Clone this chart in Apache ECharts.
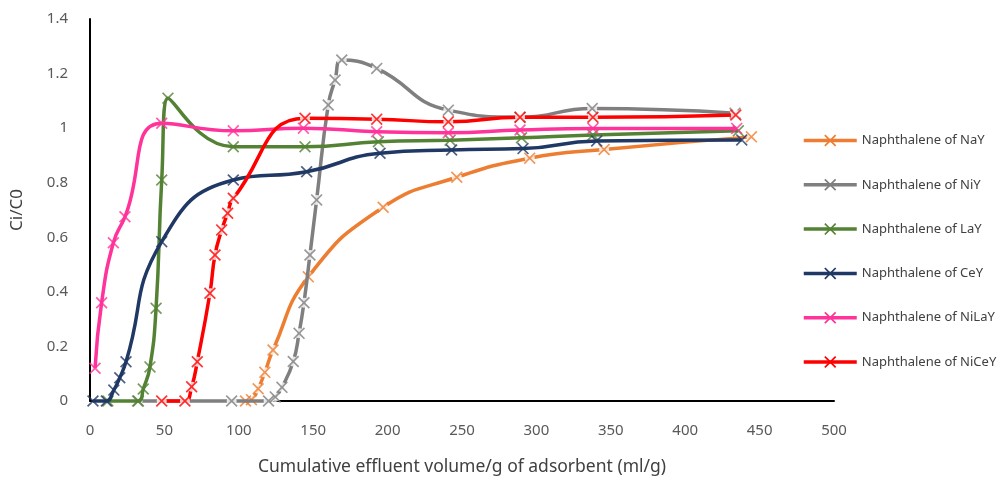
<!DOCTYPE html>
<html>
<head>
<meta charset="utf-8">
<script src="https://cdn.jsdelivr.net/npm/echarts@6/dist/echarts.min.js"></script>
<style>html,body{margin:0;padding:0;background:#fff;}#c{width:1006px;height:486px;}</style>
</head>
<body>
<div id="c"></div>
<script>
// ---- data (x = cumulative effluent volume ml/g, y = Ci/C0) ----
const seriesNames = ['Naphthalene of NaY','Naphthalene of NiY','Naphthalene of LaY','Naphthalene of CeY','Naphthalene of NiLaY','Naphthalene of NiCeY'];
const xTicks = [0,50,100,150,200,250,300,350,400,450,500];
const yTicks = [0,0.2,0.4,0.6,0.8,1,1.2,1.4];

const nayData = [[104.5,0],[108.5,0.005],[113,0.045],[117.5,0.105],[123,0.187],[146.7,0.455],[197,0.71],[246.5,0.82],[295.5,0.89],[345.5,0.922],[444.5,0.968]];
const niyData = [[32,0],[95.2,0],[120,0],[124.5,0.015],[129,0.05],[136.6,0.145],[140.5,0.248],[143.8,0.36],[147.8,0.535],[152.3,0.737],[160.1,1.085],[164.7,1.176],[169.2,1.25],[192.7,1.219],[240.8,1.066],[289,1.04],[337.5,1.072],[433.5,1.055]];
const layData = [[12,0],[32.5,0],[35.8,0.044],[40.3,0.125],[44.4,0.34],[48.2,0.81],[52.4,1.11],[96.3,0.932],[144.5,0.932],[193.8,0.95],[242,0.956],[290,0.965],[338,0.975],[435.7,0.99]];
const ceyData = [[2,0],[11,0],[16,0.04],[20,0.085],[24.2,0.144],[48.2,0.584],[96.3,0.81],[145.6,0.84],[194.9,0.908],[243,0.92],[291,0.925],[340.5,0.953],[438,0.957]];
const nilayData = [[3.4,0.12],[7.8,0.36],[15.7,0.58],[23.5,0.675],[48.2,1.018],[96.3,0.99],[143.4,1.0],[192.7,0.987],[240.8,0.983],[289,0.993],[338,0.999],[434.6,0.999]];
const niceyData = [[48.2,0],[63.8,0],[68.3,0.052],[72.1,0.144],[80.6,0.395],[84,0.535],[88.5,0.627],[92.5,0.688],[96.3,0.743],[144.5,1.036],[192.7,1.033],[240.8,1.023],[289,1.04],[338,1.04],[434,1.048]];

const allData = [nayData, niyData, layData, ceyData, nilayData, niceyData];
const colors = ['#ED7D31','#7F7F7F','#548235','#203864','#FF3399','#FF0000'];
const whiteBackedMarkers = [true, true, false, false, false, true];

const X_PATH = 'path://M2,0 L10,8 L18,0 L20,2 L12,10 L20,18 L18,20 L10,12 L2,20 L0,18 L8,10 L0,2 Z';
const FONT = 'Noto Sans';

const series = [];
allData.forEach(function (d, i) {
  const zb = 2 + i * 3;
  series.push({
    type: 'line', name: seriesNames[i], data: d, smooth: 0.5, clip: false,
    showSymbol: false, symbol: X_PATH, symbolSize: 12,
    lineStyle: { color: colors[i], width: 3.5 },
    itemStyle: { color: colors[i] },
    z: zb, animation: false
  });
  if (whiteBackedMarkers[i]) {
    series.push({
      type: 'scatter', name: '_bg' + i, data: d, symbol: 'circle', symbolSize: 10,
      itemStyle: { color: '#ffffff' }, silent: true, clip: false, z: zb + 1, animation: false
    });
  }
  series.push({
    type: 'scatter', name: seriesNames[i], data: d, symbol: X_PATH, symbolSize: 12,
    itemStyle: { color: colors[i] }, clip: false, z: zb + 2, animation: false
  });
});

const chart = echarts.init(document.getElementById('c'), null, { renderer: 'canvas' });
chart.setOption({
  animation: false,
  backgroundColor: '#ffffff',
  grid: { left: 90, right: 172, top: 19, bottom: 85 },
  legend: {
    data: seriesNames, orient: 'vertical', left: 797, top: 129,
    itemWidth: 53, itemHeight: 15, itemGap: 31.3,
    lineStyle: { width: 3.5 },
    textStyle: { fontFamily: FONT, fontSize: 13, color: '#404040', padding: [0, 0, 0, 0] }
  },
  xAxis: {
    type: 'value', min: xTicks[0], max: xTicks[xTicks.length - 1], interval: xTicks[1] - xTicks[0],
    name: 'Cumulative effluent volume/g of adsorbent (ml/g)', nameLocation: 'middle', nameGap: 57,
    nameTextStyle: { fontFamily: FONT, fontSize: 17.5, color: '#404040' },
    axisLine: { show: true, onZero: false, lineStyle: { color: '#000', width: 2 } },
    axisTick: { show: false }, splitLine: { show: false },
    axisLabel: { fontFamily: FONT, fontSize: 15, color: '#595959', margin: 22 }
  },
  yAxis: {
    type: 'value', min: yTicks[0], max: yTicks[yTicks.length - 1], interval: yTicks[1] - yTicks[0],
    name: 'Ci/C0', nameLocation: 'middle', nameGap: 64,
    nameTextStyle: { fontFamily: FONT, fontSize: 17, color: '#404040' },
    axisLine: { show: true, lineStyle: { color: '#000', width: 2 } },
    axisTick: { show: false }, splitLine: { show: false },
    axisLabel: { fontFamily: FONT, fontSize: 15, color: '#595959', margin: 22 }
  },
  series: series
});
</script>
</body>
</html>
